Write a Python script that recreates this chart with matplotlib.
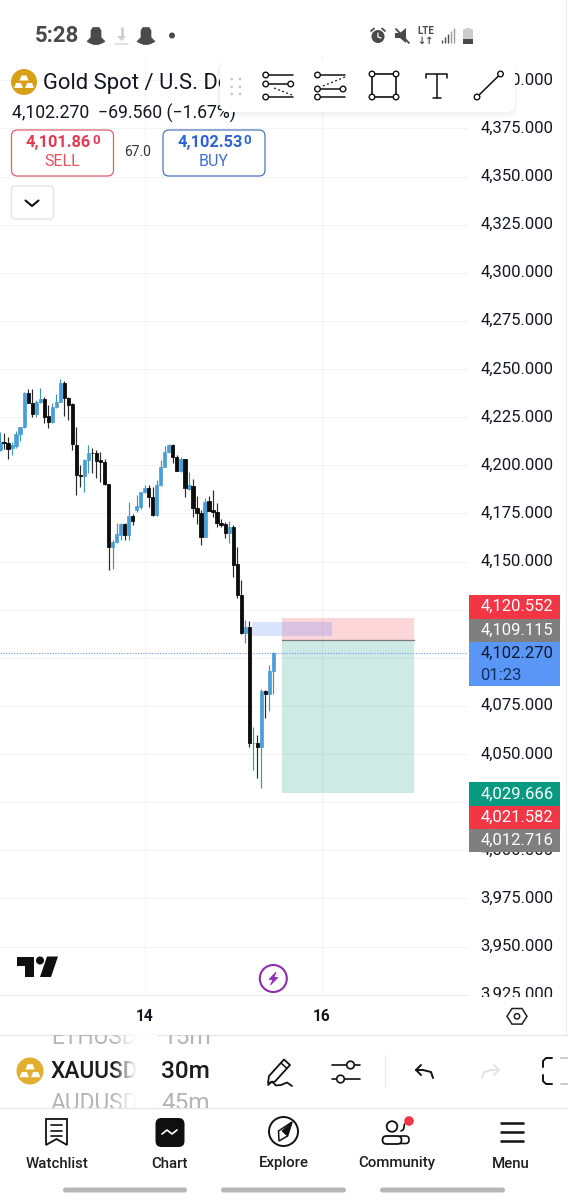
import numpy as np
import matplotlib
matplotlib.use("Agg")
import matplotlib.pyplot as plt
from matplotlib.patches import Rectangle, FancyBboxPatch, Circle, Polygon
from matplotlib.transforms import ScaledTranslation

plt.rcParams['font.family'] = ['Roboto', 'DejaVu Sans']

# ---------- data ----------
opens = [4207.9,4211.9,4211.4,4208.8,4210.0,4216.3,4219.7,4237.4,4232.2,4226.6,4232.7,4234.4,4225.6,4222.7,4230.1,4233.0,4242.6,4234.8,4231.7,4210.7,4195.1,4194.4,4202.7,4206.6,4206.6,4202.7,4201.9,4190.3,4157.7,4160.1,4163.8,4169.3,4163.8,4173.8,
         4176.7,4178.5,4185.9,4188.3,4183.7,4174.1,4189.7,4199.3,4207.0,4210.5,4204.1,4197.2,4203.1,4187.6,4189.4,4177.8,4175.0,4162.9,4181.2,4176.7,4175.9,4170.0,4169.5,4164.6,4167.7,4148.7,4132.8,4112.7,4115.8,4055.5,4055.5,4053.5,4082.7,4081.0,4093.3]
highs = [4217.5,4216.6,4214.9,4212.3,4217.8,4219.7,4238.2,4239.5,4239.5,4233.9,4240.0,4235.6,4231.3,4232.2,4237.0,4244.6,4244.0,4235.3,4232.2,4219.7,4200.1,4203.1,4210.5,4208.8,4207.9,4207.1,4203.1,4190.3,4161.2,4170.2,4170.2,4170.2,4181.1,4174.7,
         4184.5,4186.3,4189.7,4189.7,4188.9,4192.3,4202.7,4210.0,4211.0,4211.0,4205.3,4204.1,4203.1,4196.7,4192.8,4184.2,4176.7,4182.8,4184.2,4187.1,4180.5,4171.9,4170.7,4171.0,4169.0,4157.7,4140.4,4119.6,4119.3,4064.2,4059.9,4083.6,4083.2,4096.2,4103.2]
lows = [4207.5,4208.3,4203.1,4205.3,4208.8,4212.8,4219.2,4232.2,4225.3,4225.3,4232.2,4221.8,4219.2,4221.8,4229.6,4233.0,4225.6,4223.5,4207.9,4184.4,4188.9,4186.3,4195.8,4195.8,4193.2,4191.5,4189.8,4145.6,4146.1,4159.5,4161.2,4161.2,4161.2,4169.0,
        4175.9,4177.1,4185.4,4178.1,4173.6,4173.6,4189.2,4198.9,4206.5,4201.3,4197.2,4196.7,4183.7,4187.1,4173.3,4169.5,4158.6,4162.9,4176.4,4173.3,4168.1,4168.1,4162.0,4159.4,4142.1,4131.2,4112.3,4107.5,4053.5,4041.7,4037.7,4032.5,4068.5,4072.3,4081.2]
closes = [4212.3,4211.4,4208.3,4210.5,4216.1,4219.7,4237.4,4232.2,4226.6,4233.0,4234.4,4225.3,4222.7,4230.1,4233.0,4242.6,4234.8,4231.3,4211.0,4195.0,4194.4,4202.7,4206.2,4206.2,4202.4,4201.7,4190.1,4157.7,4160.1,4164.1,4169.3,4163.8,4173.8,4171.2,
          4178.8,4186.3,4188.3,4183.7,4174.1,4189.7,4199.3,4207.0,4210.5,4204.1,4197.2,4203.1,4188.0,4189.7,4177.6,4175.0,4162.9,4181.1,4176.4,4175.9,4170.2,4169.0,4164.6,4167.7,4148.2,4132.6,4113.0,4115.8,4055.5,4055.9,4053.5,4082.7,4081.0,4093.3,4102.27]

price_ticks = list(range(3925, 4401, 25))
hidden_ticks = [4125, 4100, 4025]
date_ticks = [36, 80]
date_labels = ["14", "16"]

last_price = 4102.270
change = -69.560
change_pct = -1.67
sell_price = "4,101.86"
buy_price = "4,102.53"
spread = "67.0"
stop_price = 4120.552
entry_price = 4109.115
target_price = 4029.666
alert_red = 4021.582
alert_gray = 4012.716
zone_top, zone_bottom = 4118.6, 4111.3
position_start, position_end = 70.1, 103.0
zone_start, zone_end = 62.6, 82.7

# ---------- figure and chart axes ----------
W, H = 568, 1200
fig = plt.figure(figsize=(W/100, H/100), dpi=100, facecolor='white')
top_px, bot_px, right_px = 55, 995, 468
ax = fig.add_axes([0, 1 - bot_px/H, right_px/W, (bot_px - top_px)/H], zorder=1)
to_price = lambda y: 4050 + (754 - y)/1.925
ax.set_xlim(0, right_px/4.02)
ax.set_ylim(to_price(bot_px), to_price(top_px))
for name, sp in ax.spines.items():
    sp.set_visible(name == 'bottom')
    sp.set_color('#eceded')
ax.set_yticks(price_ticks)
ax.set_yticklabels(["" if p in hidden_ticks else f"{p:,.3f}" for p in price_ticks], fontsize=12, color='#131722')
ax.yaxis.tick_right()
ax.tick_params(axis='y', length=0, pad=9.0)
for tick in ax.yaxis.get_major_ticks():
    tick.label2.set_transform(tick.label2.get_transform() + ScaledTranslation(0, 1.6/72*0.72, fig.dpi_scale_trans))
ax.set_xticks(date_ticks)
ax.set_xticklabels(date_labels, fontsize=11.2, fontweight='bold', color='#131722')
ax.tick_params(axis='x', length=0, pad=10)
ax.grid(True, color='#f3f4f5', lw=0.8)
ax.set_axisbelow(True)

# position tool
ax.add_patch(Rectangle((position_start, entry_price), position_end-position_start, stop_price-entry_price,
                       fc=(242/255, 54/255, 69/255, 0.2), ec='none', zorder=1.5))
ax.add_patch(Rectangle((position_start, target_price), position_end-position_start, entry_price-target_price,
                       fc=(8/255, 153/255, 129/255, 0.2), ec='none', zorder=1.5))
ax.add_patch(Rectangle((zone_start, zone_bottom), zone_end-zone_start, zone_top-zone_bottom,
                       fc=(41/255, 98/255, 1, 0.17), ec='none', zorder=1.6))
ax.plot([position_start, position_end], [entry_price]*2, color='#7a7a7a', lw=0.9, zorder=1.7)
ax.axhline(last_price, color='#7fa6ee', lw=0.9, ls=(0, (1, 1.2)), zorder=1.8)

# candles
o, h, l, c = map(np.array, (opens, highs, lows, closes))
idx = np.arange(len(o))
up = c >= o
UPB, UPW, DNB, DNW = '#4a9dd6', '#3f96ad', '#0d0d0d', '#2a2a2a'
ax.vlines(idx[up], l[up], h[up], color=UPW, lw=0.85, zorder=3)
ax.vlines(idx[~up], l[~up], h[~up], color=DNW, lw=0.85, zorder=3)
ax.bar(idx[up], (c-o)[up], bottom=o[up], width=0.8, color=UPB, ec=UPB, lw=0.5, zorder=4)
ax.bar(idx[~up], (c-o)[~up], bottom=o[~up], width=0.8, color=DNB, ec=DNB, lw=0.6, zorder=4)

# ---------- overlay in screen pixels ----------
ov = fig.add_axes([0, 0, 1, 1], zorder=5)
ov.set_xlim(0, W); ov.set_ylim(H, 0); ov.axis('off'); ov.patch.set_alpha(0)

def T(x, y, s, size=11, color='#131722', weight='normal', ha='left', va='center', z=10, clip=None):
    t = ov.text(x, y, s, fontsize=size, color=color, fontweight=weight, ha=ha, va=va, zorder=z)
    if clip is not None:
        t.set_clip_on(True)
        t.set_clip_path(Rectangle((clip[0], clip[1]), clip[2], clip[3], transform=ov.transData))
    return t

def RB(x, y, w, h, r=6, fc='white', ec='none', lw=1, z=5, alpha=None):
    p = FancyBboxPatch((x, y), w, h, boxstyle=f"round,pad=0,rounding_size={r}", fc=fc, ec=ec, lw=lw, zorder=z, alpha=alpha)
    ov.add_patch(p)
    return p

def L(xs, ys, color='#111', lw=1.1, z=8, **kw):
    ov.plot(xs, ys, color=color, lw=lw, zorder=z, solid_capstyle=kw.pop('cap', 'round'), **kw)

def C(x, y, r, fc='white', ec='#111', lw=1.0, z=9):
    ov.add_patch(Circle((x, y), r, fc=fc, ec=ec, lw=lw, zorder=z))

# hide the cropped bottom of the lowest price label
ov.add_patch(Rectangle((470, 997), 96, 20, fc='white', ec='none', zorder=2))
# right edge and separators
L([566, 566], [0, 1034], color='#eeeeee', lw=0.8, z=1)
L([0, W], [1034.5, 1034.5], color='#e6e6e6', lw=0.9, z=1)
L([0, W], [1108, 1108], color='#e6e6e6', lw=0.9, z=1)

# status bar
def ghost(x, y):
    ov.add_patch(Polygon([(x-5, y+2), (x-5, y-5), (x-3, y-8), (x+3, y-8), (x+5, y-5), (x+5, y+2), (x+9, y+6), (x+5, y+8),
                          (x+2, y+9), (x-2, y+9), (x-5, y+8), (x-9, y+6)], fc='#4a4a4a', ec='#4a4a4a', lw=0.5, zorder=8, joinstyle='round'))
T(35, 35.5, "5:28", size=16, color='#4a4a4a', weight='bold')
ghost(96, 35.5); ghost(146, 35.5)
L([121.5, 121.5], [28, 38], color='#cfcfcf', lw=2)
ov.add_patch(Polygon([(117, 36), (126, 36), (121.5, 41)], fc='#cfcfcf', ec='none', zorder=8))
L([115, 128], [44, 44], color='#dddddd', lw=1.2)
C(172, 35.5, 3, fc='#4a4a4a', ec='none')
C(378, 36.5, 6.5, fc='#4a4a4a', ec='none')
L([378, 378, 381], [33, 37, 38], color='white', lw=0.9, z=10)
L([371, 374], [31, 28.5], color='#4a4a4a', lw=1.3); L([385, 382], [31, 28.5], color='#4a4a4a', lw=1.3)
ov.add_patch(Polygon([(395, 33), (400, 33), (406, 28), (406, 43), (400, 38), (395, 38)], fc='#4a4a4a', ec='none', zorder=8))
L([396, 409], [29, 43], color='#4a4a4a', lw=1.3)
T(425.5, 31, "LTE", size=7, color='#4a4a4a', weight='bold', ha='center')
T(425.5, 40.5, "↓↑", size=7, color='#4a4a4a', weight='bold', ha='center').set_family(['DejaVu Sans'])
for i, (xb, yb) in enumerate(zip([442, 445, 448, 451, 454], [40, 37, 34, 31, 28])):
    L([xb, xb], [43, yb], color='#4a4a4a' if i < 3 else '#9a9a9a', lw=1.0, cap='butt')
RB(463, 29, 10, 15, r=1.5, fc='#cccccc', z=8)
ov.add_patch(Rectangle((463, 39), 10, 5, fc='#4a4a4a', ec='none', zorder=9))
ov.add_patch(Rectangle((466, 27.5), 4, 2, fc='#cccccc', ec='none', zorder=9))

# gold icon
def gold(x, y, r, fc):
    C(x, y, r, fc=fc, ec='none', z=8)
    s = r/13
    for dx, dy in [(0, -4), (-5.5, 3.5), (5.5, 3.5)]:
        ov.add_patch(Polygon([(x+(dx-4.5)*s, y+(dy+2.5)*s), (x+(dx-2.5)*s, y+(dy-2.5)*s), (x+(dx+2.5)*s, y+(dy-2.5)*s),
                              (x+(dx+4.5)*s, y+(dy+2.5)*s)], fc='white', ec='none', zorder=9))

# header
gold(24, 82, 13, '#d9a017')
T(43, 83, "Gold Spot / U.S. Dollar", size=15.8, color='#131722', z=4)
T(12, 113.5, f"{last_price:,.3f}  \u2212{abs(change):.3f} (\u2212{abs(change_pct):.2f}%)", size=12.7, color='#131722', z=4)
RB(11.5, 130, 102, 46, r=6, ec='#d9616f', lw=0.9)
RB(163, 130, 102, 46, r=6, ec='#4f76bd', lw=0.9)
T(26, 143, sell_price, size=11.8, color='#e23a50', weight='bold')
T(92.5, 141, "0", size=9.5, color='#e23a50', weight='bold')
T(62, 162, "SELL", size=11.5, color='#e2525f', ha='center')
T(177, 143, buy_price, size=11.8, color='#2f62d2', weight='bold')
T(243.5, 141, "0", size=9.5, color='#2f62d2', weight='bold')
T(214, 162, "BUY", size=11.5, color='#3f6fd6', ha='center')
T(138, 152, spread, size=10, color='#333333', ha='center')
RB(11.5, 186, 42, 33, r=3, ec='#e6e6e6', lw=1)
L([25.5, 32, 38.5], [200.5, 206, 200.5], color='#111', lw=1.5)

# drawing toolbar
for i in range(5):
    RB(219-i*0.6, 61+i*0.4, 296+i*1.2, 52+i*0.8, r=9, fc='black', z=5, alpha=0.012)
RB(220, 61, 295, 51, r=8, fc='white', z=6)
for xd in (231.7, 240):
    for yd in (79, 87, 94):
        C(xd, yd, 1.3, fc='#c4c4c4', ec='none')
for yy, x0, x1 in [(75, 265.7, 293), (84, 265.7, 293), (97, 265.7, 293)]:
    L([x0+3, x1], [yy, yy], lw=1.1)
    C(x0, yy, 2.8)
C(290.7, 84, 2.8)
L([274, 292], [88, 95], lw=0.9, ls=(0, (1.5, 2)))
for yy in (75, 89, 97):
    L([320, 345], [yy, yy], lw=1.1)
    C(317.5, yy, 2.8)
C(343, 89, 2.8)
L([323, 345], [86, 77], lw=0.9, ls=(0, (1.5, 2)))
L([372, 396, 396, 372, 372], [74, 74, 97, 97, 74], lw=1.2)
for xc, yc in [(372, 74), (396, 74), (372, 97), (396, 97)]:
    C(xc, yc, 2.8)
L([426, 426, 447, 447], [78, 74, 74, 78], lw=1.1)
L([436.5, 436.5], [74, 98], lw=1.1)
L([432.5, 440.5], [98, 98], lw=1.1)
L([477, 500.5], [97, 74], lw=1.1)
C(477, 97, 2.8); C(500.5, 74, 2.8)

# price tags
def tag(y0, y1, fc, lines, color='white', z=7):
    ov.add_patch(Rectangle((468.5, y0), 91.5, y1-y0, fc=fc, ec='none', zorder=z))
    n = len(lines)
    step = (y1-y0)/n
    for i, s in enumerate(lines):
        T(480.5, y0+step*(i+0.5), s[0], size=12, color=s[1] if len(s) > 1 else color, z=z+1)

tag(594.5, 619, '#f23645', [(f"{stop_price:,.3f}",)])
tag(619, 642, '#7f7f7f', [(f"{entry_price:,.3f}",)])
tag(642, 686, '#5a96f5', [(f"{last_price:,.3f}", '#0d1b33'), ("01:23", '#12305f')])
tag(782, 806, '#089981', [(f"{target_price:,.3f}",)])
tag(806, 829, '#f23645', [(f"{alert_red:,.3f}",)])
tag(829, 852, '#7f7f7f', [(f"{alert_gray:,.3f}",)])

# TradingView logo
ov.add_patch(Polygon([(16.5, 956.5), (34, 956.5), (34, 977), (25, 977), (25, 965.5), (16.5, 965.5)], fc='#0f0f0f', ec='none', zorder=8))
C(40, 960.5, 4, fc='#0f0f0f', ec='none')
ov.add_patch(Polygon([(47, 956.5), (58, 956.5), (51, 977), (40, 977)], fc='#0f0f0f', ec='none', zorder=8))
# lightning
C(273.3, 978.5, 13.5, fc='white', ec='#8e2bb0', lw=1.5)
ov.add_patch(Polygon([(276, 972), (269, 979.5), (273, 979.5), (270.5, 985), (278, 977.5), (274, 977.5)], fc='#8e2bb0', ec='#8e2bb0', lw=0.5, zorder=10))

# hexagon button
a = np.deg2rad(np.arange(0, 360, 60))
ov.add_patch(Polygon(np.c_[517+10*np.cos(a), 1016.3+9*np.sin(a)], fc='white', ec='#222', lw=1.1, zorder=8))
C(517, 1016.3, 2.7, fc='white', ec='#222', lw=1.1)

# symbol and interval pickers
pick = (48, 1035, 180, 73)
gold(30, 1071, 13.5, '#e2ae2e')
T(51, 1071, "XAUUSD", size=16.4, color='#1c1c1c', weight='medium', clip=pick)
T(51, 1038, "ETHUSD", size=16.4, color='#b5b5b5', clip=pick)
T(51, 1103, "AUDUSD", size=16.4, color='#b5b5b5', clip=pick)
T(161, 1071, "30m", size=17.6, color='#1c1c1c', weight='medium', clip=pick)
T(163, 1038, "15m", size=17.6, color='#b5b5b5', clip=pick)
T(161, 1103, "45m", size=17.6, color='#b5b5b5', clip=pick)
grad = np.ones((1, 24, 4)); grad[0, :, 3] = np.linspace(0, 1, 24)**0.8
ov.imshow(grad, extent=(113, 137, 1108, 1035), aspect='auto', zorder=11)
ov.add_patch(Rectangle((137, 1035), 20, 73, fc='white', ec='none', zorder=12))
ov.set_xlim(0, W); ov.set_ylim(H, 0)

# pencil, sliders, undo, redo, bracket
ov.add_patch(Polygon([(269, 1076), (284, 1059.5), (290, 1065), (275, 1081.5), (268, 1083)], fc='white', ec='#111', lw=1.3, zorder=8, joinstyle='round'))
L([281, 287], [1063, 1068.5], lw=1.1)
L([268, 272, 276, 281, 287, 292], [1085, 1081.5, 1085.5, 1085, 1082.5, 1086], lw=1.3)
L([332, 360], [1065, 1065], lw=1.2); L([332, 360], [1079, 1079], lw=1.2)
C(350.5, 1065, 3.8, lw=1.2); C(340.5, 1079, 3.8, lw=1.2)
L([385, 385], [1055, 1087], color='#ececec', lw=1)
L([416, 423, 431, 433], [1070, 1070, 1072, 1078], lw=1.4)
L([421, 416, 421], [1065, 1070, 1075], lw=1.4)
L([499, 492, 484, 482], [1070, 1070, 1072, 1078], color='#e3e3e3', lw=1.4)
L([494, 499, 494], [1065, 1070, 1075], color='#e3e3e3', lw=1.4)
L([552, 546, 543, 543], [1058, 1058, 1061, 1067], lw=1.4); L([552, 546, 543, 543], [1084, 1084, 1081, 1075], lw=1.4)
L([561, 568], [1058, 1058], color='#cccccc', lw=1.4); L([561, 568], [1084, 1084], color='#cccccc', lw=1.4)

# bottom nav
for xn, s in [(57, "Watchlist"), (169.5, "Chart"), (283.5, "Explore"), (397, "Community"), (511, "Menu")]:
    T(xn, 1163.5, s, size=10.8, color='#1f1f1f', weight='medium', ha='center')
ov.add_patch(Polygon([(46, 1119), (67, 1119), (67, 1145), (56.5, 1139), (46, 1145)], fc='white', ec='#111', lw=1.3, zorder=8))
for yy in (1125, 1130.5, 1136):
    L([51, 62], [yy, yy], lw=1.2)
RB(155.5, 1118, 29, 29, r=6, fc='#0f0f0f', z=8)
L([162, 167, 172, 177], [1134, 1130, 1134, 1130], color='white', lw=1.2, z=9)
C(283.5, 1131.5, 14.5, lw=1.4)
ov.add_patch(Polygon([(292, 1122), (287.5, 1136), (279, 1141), (278.5, 1131)], fc='white', ec='#111', lw=1.1, zorder=10))
ov.add_patch(Polygon([(292, 1122), (287.5, 1136), (282, 1131)], fc='#111', ec='#111', lw=0.6, zorder=11))
C(392, 1126.5, 5.3, lw=1.3)
RB(382.5, 1136, 19, 8, r=4, lw=1.3, ec='#111', z=9)
RB(398, 1136, 11, 7.5, r=3.5, lw=1.2, ec='#111', z=7)
L([404.5, 403.5, 401], [1124, 1129.5, 1131], lw=1.2)
C(409, 1121, 4.8, fc='#f23645', ec='none', z=11)
for yy in (1123, 1132, 1141):
    L([499.5, 524], [yy, yy], lw=1.8, cap='butt')

# gesture bars
for x0, x1 in [(63, 187), (221, 346), (380, 505)]:
    RB(x0, 1187.5, x1-x0, 5, r=2.5, fc='#b7b7b7', z=8)

fig.savefig('out.png', dpi=100, facecolor='white')
